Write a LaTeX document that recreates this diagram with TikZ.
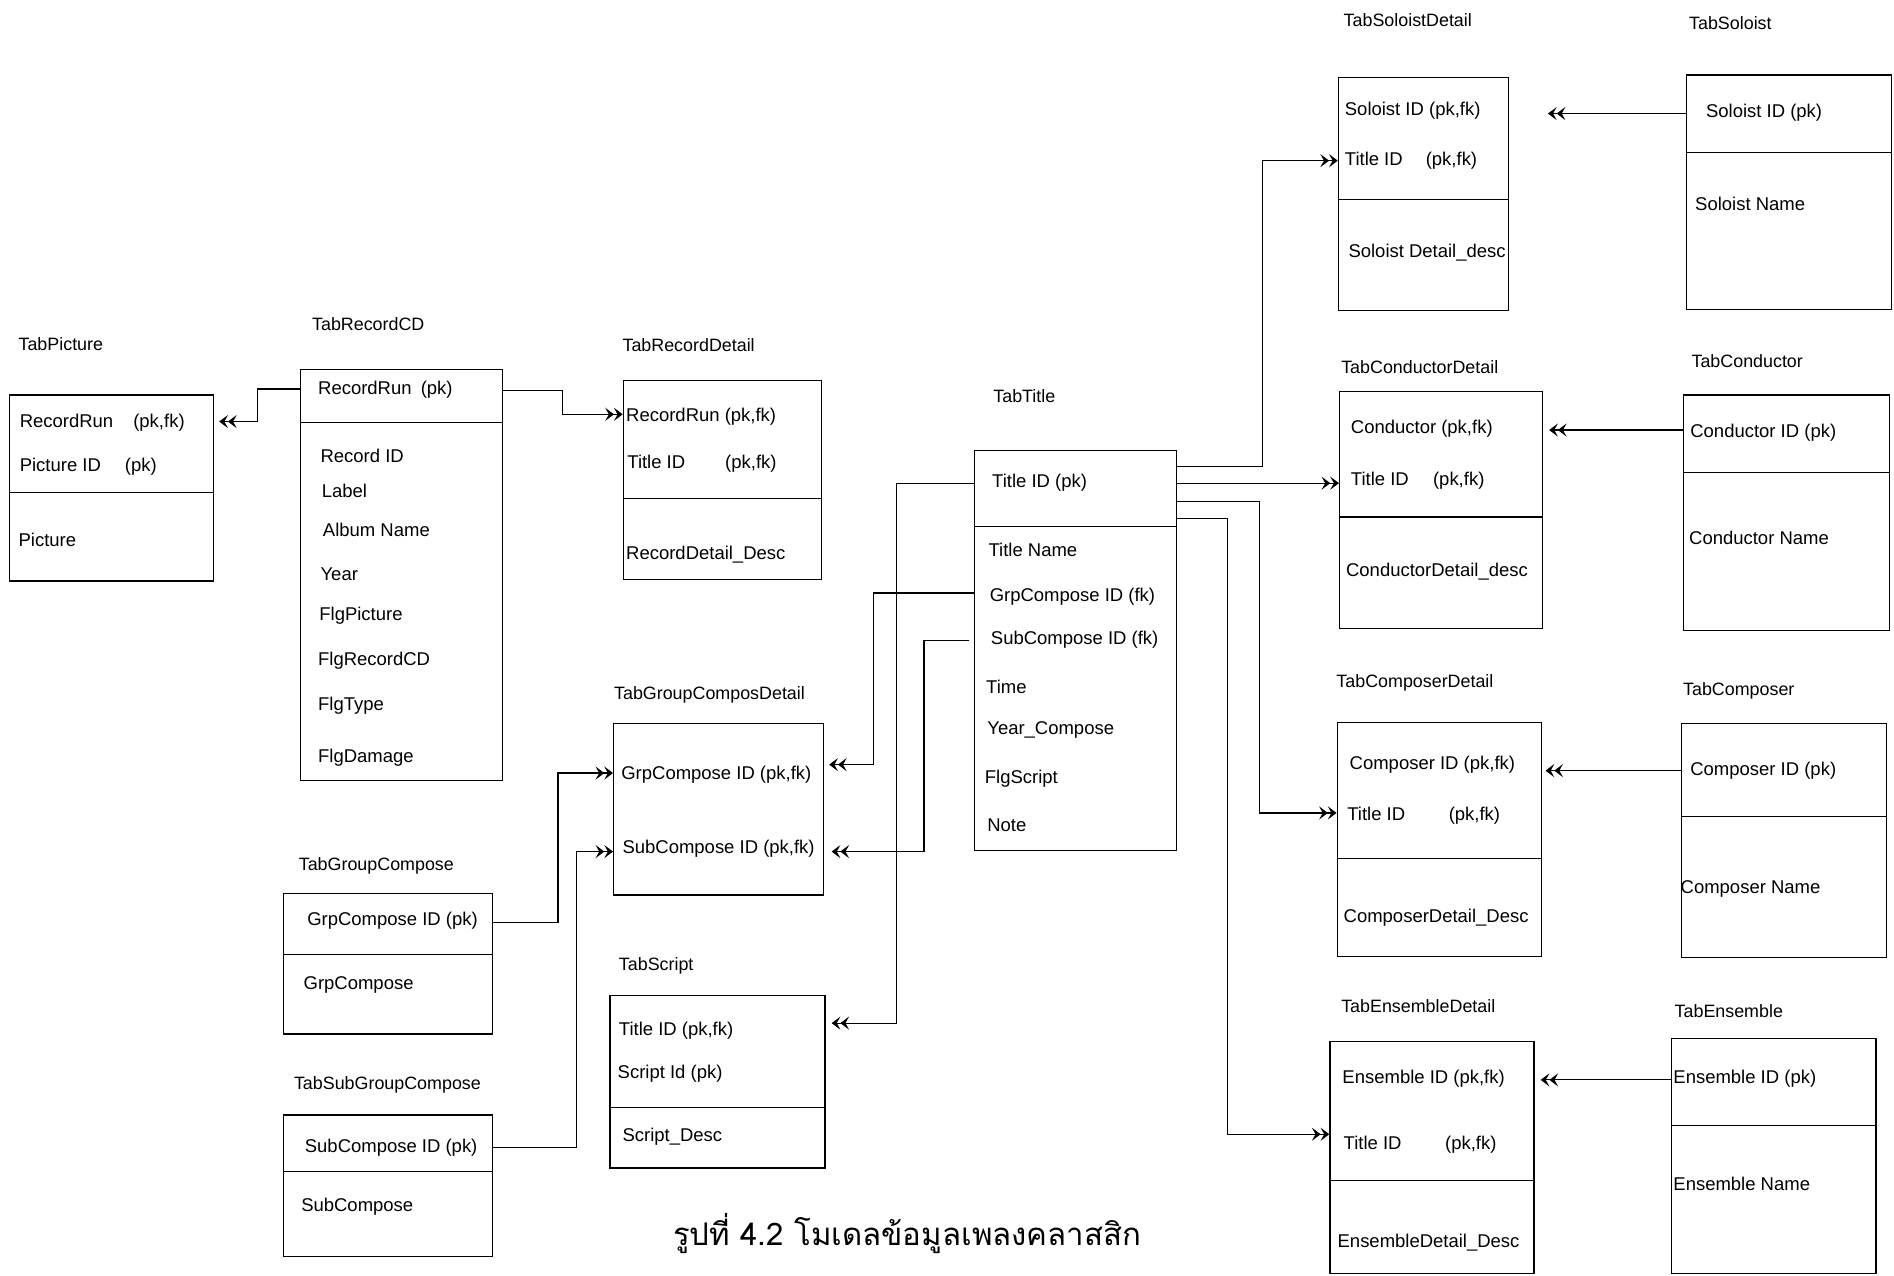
\documentclass[tikz,border=0pt]{standalone}
\usepackage{fontspec}
\setmainfont{Liberation Sans}
\newfontfamily\thaifont[Script=Thai]{Loma}
\usetikzlibrary{arrows.meta,fit,calc}
\tikzset{
 tbl/.style={draw,line width=0.5pt,inner sep=0pt},
 fld/.style={anchor=west,inner sep=0pt,font=\fontsize{7.65}{9}\selectfont},
 lbl/.style={anchor=west,inner sep=0pt,font=\fontsize{7.4}{9}\selectfont},
 sepline/.style={line width=0.5pt},
 conn/.style={line width=0.5pt},
 crow/.style={conn,-{Stealth[length=3.6pt,width=5.4pt,inset=1.5pt] Stealth[length=3.6pt,width=5.4pt,inset=1.5pt]}},
}
\begin{document}
\begin{tikzpicture}[x=0.5pt,y=-0.5pt]
\useasboundingbox (0,0) rectangle (1568,1056);

% ---------- TabPicture
\node[lbl] (lpic) at (15,285) {TabPicture};
\node[tbl,fit={(8,327) (177,481)}] (pic) {};
\draw[sepline] (pic.west |- 0,408) -- (pic.east |- 0,408);
\node[fld] (pic1) at (16,350) {\makebox[47pt][l]{RecordRun}(pk,fk)};
\node[fld] (pic2) at (16,386) {\makebox[43.5pt][l]{Picture ID}(pk)};
\node[fld] (pic3) at (15,447) {Picture};

% ---------- TabRecordCD
\node[lbl] (lrcd) at (258,268) {TabRecordCD};
\node[tbl,fit={(249,306) (416,646)}] (rcd) {};
\draw[sepline] (rcd.west |- 0,350) -- (rcd.east |- 0,350);
\node[fld] (rcd1) at (263,323) {\makebox[42.5pt][l]{RecordRun}(pk)};
\node[fld] (rcd2) at (265,377) {Record ID};
\node[fld] (rcd3) at (266,406) {Label};
\node[fld] (rcd4) at (267,439) {Album Name};
\node[fld] (rcd5) at (265,475) {Year};
\node[fld] (rcd6) at (264,510) {FlgPicture};
\node[fld] (rcd7) at (263,547) {FlgRecordCD};
\node[fld] (rcd8) at (263,584) {FlgType};
\node[fld] (rcd9) at (263,627) {FlgDamage};

% ---------- TabRecordDetail
\node[lbl] (lrd) at (515,286) {TabRecordDetail};
\node[tbl,fit={(516,315) (680,480)}] (rd) {};
\draw[sepline] (rd.west |- 0,413) -- (rd.east |- 0,413);
\node[fld] (rd1) at (518,345) {RecordRun (pk,fk)};
\node[fld] (rd2) at (519,384) {\makebox[40.5pt][l]{Title ID}(pk,fk)};
\node[fld] (rd3) at (518,459) {RecordDetail\_Desc};

% ---------- TabTitle
\node[lbl] (lti) at (822,328) {TabTitle};
\node[tbl,fit={(807,373) (974,704)}] (ti) {};
\draw[sepline] (ti.west |- 0,436) -- (ti.east |- 0,436);
\node[fld] (ti1) at (821,400) {Title ID (pk)};
\node[fld] (ti2) at (818,455) {Title Name};
\node[fld] (ti3) at (819,494) {GrpCompose ID (fk)};
\node[fld] (ti4) at (820,530) {SubCompose ID (fk)};
\node[fld] (ti5) at (816,569) {Time};
\node[fld] (ti6) at (817,604) {Year\_Compose};
\node[fld] (ti7) at (815,645) {FlgScript};
\node[fld] (ti8) at (817,683) {Note};

% ---------- TabGroupComposDetail
\node[lbl] (lgcd) at (508,575) {TabGroupComposDetail};
\node[tbl,fit={(508,599) (682,741)}] (gcd) {};
\node[fld] (gcd1) at (514,641) {GrpCompose ID (pk,fk)};
\node[fld] (gcd2) at (515,703) {SubCompose ID (pk,fk)};

% ---------- TabGroupCompose
\node[lbl] (lgc) at (247,717) {TabGroupCompose};
\node[tbl,fit={(235,740) (408,856)}] (gc) {};
\draw[sepline] (gc.west |- 0,790) -- (gc.east |- 0,790);
\node[fld] (gc1) at (254,762) {GrpCompose ID (pk)};
\node[fld] (gc2) at (251,815) {GrpCompose};

% ---------- TabSubGroupCompose
\node[lbl] (lsgc) at (243,898) {TabSubGroupCompose};
\node[tbl,fit={(235,923) (408,1040)}] (sgc) {};
\draw[sepline] (sgc.west |- 0,970) -- (sgc.east |- 0,970);
\node[fld] (sgc1) at (252,950) {SubCompose ID (pk)};
\node[fld] (sgc2) at (249,999) {SubCompose};

% ---------- TabScript
\node[lbl] (lsc) at (512,800) {TabScript};
\node[tbl,fit={(505,824) (683,967)}] (sc) {};
\draw[sepline] (sc.west |- 0,917) -- (sc.east |- 0,917);
\node[fld] (sc1) at (512,853) {Title ID (pk,fk)};
\node[fld] (sc2) at (511,889) {Script Id (pk)};
\node[fld] (sc3) at (515,941) {Script\_Desc};

% ---------- TabSoloistDetail
\node[lbl] (lsd) at (1112,17) {TabSoloistDetail};
\node[tbl,fit={(1108,64) (1249,257)}] (sd) {};
\draw[sepline] (sd.west |- 0,165) -- (sd.east |- 0,165);
\node[fld] (sd1) at (1113,92) {Soloist ID (pk,fk)};
\node[fld] (sd2) at (1113,133) {\makebox[33.5pt][l]{Title ID}(pk,fk)};
\node[fld] (sd3) at (1116,209) {Soloist Detail\_desc};

% ---------- TabSoloist
\node[lbl] (lso) at (1398,19) {TabSoloist};
\node[tbl,fit={(1396,62) (1566,256)}] (so) {};
\draw[sepline] (so.west |- 0,126) -- (so.east |- 0,126);
\node[fld] (so1) at (1412,93) {Soloist ID (pk)};
\node[fld] (so2) at (1403,169) {Soloist Name};

% ---------- TabConductorDetail
\node[lbl] (lcd) at (1110,304) {TabConductorDetail};
\node[tbl,fit={(1109,324) (1277,520)}] (cd) {};
\draw[sepline] (cd.west |- 0,428) -- (cd.east |- 0,428);
\node[fld] (cd1) at (1118,355) {Conductor (pk,fk)};
\node[fld] (cd2) at (1118,398) {\makebox[34pt][l]{Title ID}(pk,fk)};
\node[fld] (cd3) at (1114,473) {ConductorDetail\_desc};

% ---------- TabConductor
\node[lbl] (lco) at (1400,299) {TabConductor};
\node[tbl,fit={(1394,327) (1564,522)}] (co) {};
\draw[sepline] (co.west |- 0,391) -- (co.east |- 0,391);
\node[fld] (co1) at (1399,358) {Conductor ID (pk)};
\node[fld] (co2) at (1398,445) {Conductor Name};

% ---------- TabComposerDetail
\node[lbl] (lmd) at (1106,565) {TabComposerDetail};
\node[tbl,fit={(1107,598) (1276,792)}] (md) {};
\draw[sepline] (md.west |- 0,711) -- (md.east |- 0,711);
\node[fld] (md1) at (1117,633) {Composer ID (pk,fk)};
\node[fld] (md2) at (1115,675) {\makebox[42pt][l]{Title ID}(pk,fk)};
\node[fld] (md3) at (1112,760) {ComposerDetail\_Desc};

% ---------- TabComposer
\node[lbl] (lmo) at (1393,572) {TabComposer};
\node[tbl,fit={(1392,599) (1562,793)}] (mo) {};
\draw[sepline] (mo.west |- 0,676) -- (mo.east |- 0,676);
\node[fld] (mo1) at (1399,638) {Composer ID (pk)};
\node[fld] (mo2) at (1391,736) {Composer Name};

% ---------- TabEnsembleDetail
\node[lbl] (led) at (1110,833) {TabEnsembleDetail};
\node[tbl,fit={(1101,862) (1270,1054)}] (ed) {};
\draw[sepline] (ed.west |- 0,977) -- (ed.east |- 0,977);
\node[fld] (ed1) at (1111,893) {Ensemble ID (pk,fk)};
\node[fld] (ed2) at (1112,948) {\makebox[42pt][l]{Title ID}(pk,fk)};
\node[fld] (ed3) at (1107,1029) {EnsembleDetail\_Desc};

% ---------- TabEnsemble
\node[lbl] (leo) at (1386,837) {TabEnsemble};
\node[tbl,fit={(1384,860) (1553,1054)}] (eo) {};
\draw[sepline] (eo.west |- 0,932) -- (eo.east |- 0,932);
\node[fld] (eo1) at (1385,893) {Ensemble ID (pk)};
\node[fld] (eo2) at (1385,980) {Ensemble Name};

% ---------- caption
\node[inner sep=0pt,font=\thaifont\fontsize{12.9}{16}\selectfont] (cap) at (751,1021) {รูปที่ 4.2 โมเดลข้อมูลเพลงคลาสสิก};

% ---------- connectors
\draw[crow] (rcd.west |- 0,322) -- (213,322) |- ($(pic.east |- 0,349)+(4,0)$);
\draw[crow] (rcd.east |- 0,323) -- (466,323) |- (rd.west |- 0,343);
\draw[crow] (gc.east |- 0,764) -- (462,764) |- (gcd.west |- 0,640);
\draw[crow] (sgc.east |- 0,950) -- (477,950) |- (gcd.west |- 0,705);
\draw[crow] (ti.west |- 0,400) -- (742,400) |- ($(sc.east |- 0,847)+(5,0)$);
\draw[crow] (ti.west |- 0,491) -- (723,491) |- ($(gcd.east |- 0,633)+(4,0)$);
\draw[crow] ($(ti.west |- 0,530)+(-4,0)$) -- (765,530) |- ($(gcd.east |- 0,705)+(6,0)$);
\draw[crow] (ti.east |- 0,386) -- (1045,386) |- (sd.west |- 0,133);
\draw[crow] (ti.east |- 0,400) -- (cd.west |- 0,400);
\draw[crow] (ti.east |- 0,415) -- (1043,415) |- (md.west |- 0,673);
\draw[crow] (ti.east |- 0,429) -- (1016,429) |- (ed.west |- 0,939);
\draw[crow] (so.west |- 0,94) -- ($(sd.east |- 0,94)+(32,0)$);
\draw[crow] (co.west |- 0,356) -- ($(cd.east |- 0,356)+(5,0)$);
\draw[crow] (mo.west |- 0,638) -- ($(md.east |- 0,638)+(3,0)$);
\draw[crow] (eo.west |- 0,894) -- ($(ed.east |- 0,894)+(5,0)$);
\end{tikzpicture}
\end{document}
